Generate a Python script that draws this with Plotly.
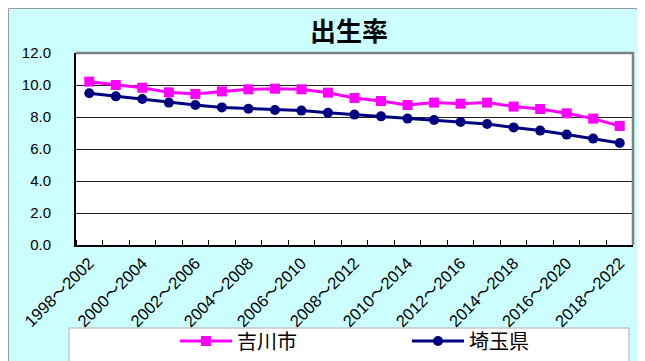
import plotly.graph_objects as go

# --- data ---
periods = [
    "1998～2002", "1999～2003", "2000～2004", "2001～2005", "2002～2006",
    "2003～2007", "2004～2008", "2005～2009", "2006～2010", "2007～2011",
    "2008～2012", "2009～2013", "2010～2014", "2011～2015", "2012～2016",
    "2013～2017", "2014～2018", "2015～2019", "2016～2020", "2017～2021",
    "2018～2022",
]
yoshikawa = [10.21, 10.0, 9.83, 9.54, 9.44, 9.6, 9.73, 9.77, 9.73, 9.52,
             9.19, 9.0, 8.75, 8.9, 8.83, 8.9, 8.65, 8.5, 8.23, 7.9, 7.44]
saitama = [9.48, 9.29, 9.13, 8.9, 8.75, 8.6, 8.52, 8.44, 8.4, 8.27,
           8.15, 8.04, 7.9, 7.81, 7.69, 7.56, 7.35, 7.15, 6.9, 6.65, 6.38]

FONT = "Liberation Sans, Arial, Noto Sans CJK JP"
CJK = "Noto Sans CJK JP, sans-serif"

# page has an 8px body margin -> figure sits 8px right/down
OFF = 8
W, H = 645, 361
L, T = 76 - OFF, 53 - OFF
R, B = W - (633 - OFF), H - (245 - OFF)
pw, ph = W - L - R, H - T - B


def px(x):
    # page pixel -> paper x
    return (x - OFF - L) / pw


def py(y):
    # page pixel -> paper y
    return (H - B - (y - OFF)) / ph


xs = list(range(len(periods)))

fig = go.Figure()
fig.add_trace(go.Scatter(
    x=xs, y=yoshikawa, name="吉川市", mode="lines+markers",
    line=dict(color="#FF00FF", width=3),
    marker=dict(symbol="square", size=10, color="#FF00FF"),
))
fig.add_trace(go.Scatter(
    x=xs, y=saitama, name="埼玉県", mode="lines+markers",
    line=dict(color="#000080", width=3),
    marker=dict(symbol="circle", size=10, color="#000080"),
))

shapes = [
    # cyan chart area
    dict(type="rect", xref="paper", yref="paper", layer="below",
         x0=px(8.5), x1=px(670), y0=py(8.5), y1=py(390),
         fillcolor="#CCFFFF", line=dict(color="#9a9a9a", width=1)),
    # plot area
    dict(type="rect", xref="paper", yref="paper", layer="below",
         x0=0, x1=1, y0=0, y1=1, fillcolor="white", line=dict(width=0)),
    # legend box
    dict(type="rect", xref="paper", yref="paper", layer="below",
         x0=px(69), x1=px(629), y0=py(328), y1=py(390),
         fillcolor="white", line=dict(color="#c8c8c8", width=1.5)),
    # grey frame top / right
    dict(type="path", xref="paper", yref="paper", layer="above",
         path="M 0,1 L 1,1 L 1,0", line=dict(color="#808080", width=2.5)),
]

fig.update_layout(
    width=W, height=H,
    margin=dict(l=L, r=R, t=T, b=B, autoexpand=False),
    paper_bgcolor="white", plot_bgcolor="rgba(0,0,0,0)",
    font=dict(family=FONT, color="black"),
    title=dict(text="<b>出生率</b>", xref="container", x=(349 - OFF) / W,
               xanchor="center", y=1 - (32 - OFF) / H, yanchor="middle",
               font=dict(family=CJK, size=26, color="black")),
    shapes=shapes,
    showlegend=True,
    legend=dict(
        orientation="h", x=px(175), xanchor="left", y=py(341), yanchor="middle",
        bgcolor="rgba(0,0,0,0)", borderwidth=0,
        font=dict(family=CJK, size=20, color="black"),
        itemwidth=52, entrywidth=165, entrywidthmode="pixels",
    ),
)

fig.update_xaxes(
    range=[-0.5, len(periods) - 0.5], automargin=False,
    tickmode="array", tickvals=xs[::2], ticktext=periods[::2],
    tickangle=-45, ticks="", showgrid=False, zeroline=False,
    tickfont=dict(family=FONT, size=16.5),
    showline=True, linecolor="black", linewidth=2,
    minor=dict(tick0=-0.5, dtick=1, ticks="inside", ticklen=5,
               tickcolor="black", tickwidth=1, showgrid=False),
)
fig.update_yaxes(
    range=[0, 12], dtick=2, tickformat=".1f", automargin=False,
    showgrid=True, gridcolor="#222", gridwidth=1, zeroline=False,
    showline=True, linecolor="black", linewidth=2,
    ticks="", ticklabelstandoff=20,
    tickfont=dict(family=FONT, size=15),
)

fig.write_html("out.html")
